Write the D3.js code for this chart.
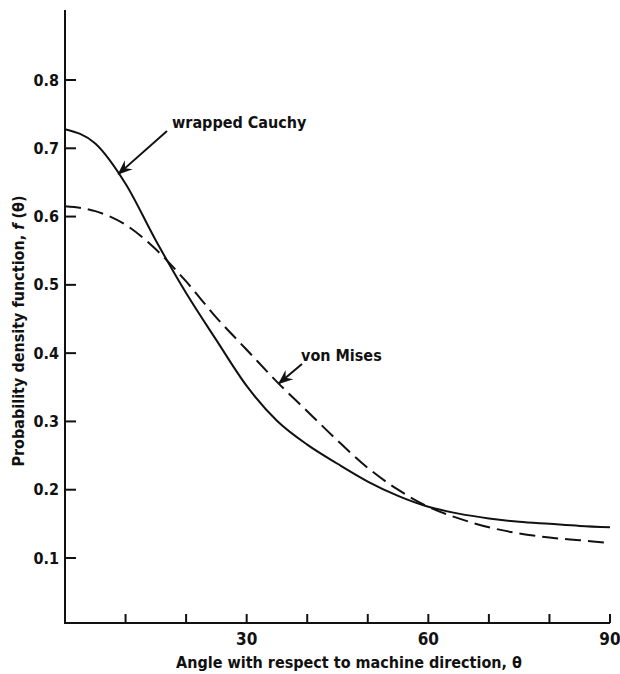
<!DOCTYPE html>
<html>
<head>
<meta charset="utf-8">
<script src="https://cdn.jsdelivr.net/npm/d3@7"></script>
<style>
  html, body { margin: 0; padding: 0; background: #fff; }
  svg { display: block; }
  text { font-family: "DejaVu Sans Condensed", "DejaVu Sans", sans-serif; font-weight: bold; fill: #111; }
</style>
</head>
<body>
<svg id="chart" width="620" height="674"></svg>
<script>
// ---- data ----
const angles = [0, 5, 10, 15, 20, 25, 30, 35, 40, 45, 50, 55, 60, 65, 70, 75, 80, 85, 90];
const wrappedCauchy = [0.728, 0.707, 0.648, 0.565, 0.488, 0.419, 0.352, 0.301, 0.266, 0.238, 0.212, 0.191, 0.175, 0.165, 0.158, 0.153, 0.150, 0.147, 0.145];
const vonMises = [0.615, 0.608, 0.588, 0.552, 0.505, 0.452, 0.405, 0.358, 0.315, 0.272, 0.232, 0.200, 0.175, 0.158, 0.145, 0.136, 0.130, 0.126, 0.122];
const xMinorTicks = [10, 20, 30, 40, 50, 60, 70, 80, 90];
const xTickLabels = [30, 60, 90];
const yTicks = [0.1, 0.2, 0.3, 0.4, 0.5, 0.6, 0.7, 0.8];
const xTitle = "Angle with respect to machine direction, θ";
const yTitleParts = ["Probability density function, ", "f", " (θ)"];
const annotations = [
  { label: "wrapped Cauchy", series: "wc", tipAngle: 8.8, tx: 172, ty: 128, sx: 167, sy: 131 },
  { label: "von Mises", series: "vm", tipAngle: 35.3, tx: 301, ty: 361, sx: 302, sy: 364 }
];

// ---- layout ----
const svg = d3.select("#chart");
const x = d3.scaleLinear().domain([0, 90]).range([65, 610]);
const y = d3.scaleLinear().domain([0.1, 0.8]).range([558, 80]);
const axisY = 623, axisTop = 10;
const fs = 16;

// defs: arrowhead
svg.append("defs").append("marker")
  .attr("id", "ah").attr("viewBox", "-15 -7 17 14")
  .attr("refX", 0).attr("refY", 0)
  .attr("markerWidth", 17).attr("markerHeight", 14)
  .attr("markerUnits", "userSpaceOnUse")
  .attr("orient", "auto")
  .append("path").attr("d", "M1,0 L-14,-6 L-9,0 L-14,6 Z").attr("fill", "#111");

// axes lines
const ax = svg.append("g").attr("stroke", "#111").attr("stroke-width", 2).attr("fill", "none");
ax.append("line").attr("x1", x(0)).attr("x2", x(0)).attr("y1", axisTop).attr("y2", axisY);
ax.append("line").attr("x1", x(0) - 1).attr("x2", x(90)).attr("y1", axisY).attr("y2", axisY);

// x ticks (inward)
ax.selectAll(".xt").data(xMinorTicks).join("line")
  .attr("x1", d => x(d)).attr("x2", d => x(d))
  .attr("y1", axisY).attr("y2", axisY - 9);

// y ticks (inward)
ax.selectAll(".yt").data(yTicks).join("line")
  .attr("x1", x(0)).attr("x2", x(0) + 11)
  .attr("y1", d => y(d)).attr("y2", d => y(d));

// tick labels
svg.selectAll(".xl").data(xTickLabels).join("text")
  .attr("x", d => x(d)).attr("y", axisY + 22)
  .attr("text-anchor", "middle").attr("font-size", fs + 1)
  .text(d => d);

svg.selectAll(".yl").data(yTicks).join("text")
  .attr("x", 59).attr("y", d => y(d)).attr("dy", "0.35em")
  .attr("text-anchor", "end").attr("font-size", fs)
  .text(d => d3.format(".1f")(d));

// axis titles
svg.append("text")
  .attr("x", 349).attr("y", 668)
  .attr("text-anchor", "middle").attr("font-size", fs)
  .text(xTitle);

const yt = svg.append("text")
  .attr("transform", "translate(24,331) rotate(-90)")
  .attr("text-anchor", "middle").attr("font-size", fs);
yt.append("tspan").text(yTitleParts[0]);
yt.append("tspan").attr("font-style", "italic").text(yTitleParts[1]);
yt.append("tspan").text(yTitleParts[2]);

// curves
const wcData = angles.map((a, i) => [a, wrappedCauchy[i]]);
const vmData = angles.map((a, i) => [a, vonMises[i]]);
const line = d3.line().x(d => x(d[0])).y(d => y(d[1])).curve(d3.curveMonotoneX);

svg.append("path").datum(wcData).attr("d", line)
  .attr("fill", "none").attr("stroke", "#111").attr("stroke-width", 2);
svg.append("path").datum(vmData).attr("d", line)
  .attr("fill", "none").attr("stroke", "#111").attr("stroke-width", 2)
  .attr("stroke-dasharray", "16,7");

// annotations
function interp(series, a) {
  const vals = series === "wc" ? wrappedCauchy : vonMises;
  return d3.scaleLinear().domain(angles).range(vals)(a);
}
annotations.forEach(an => {
  const tipX = x(an.tipAngle), tipY = y(interp(an.series, an.tipAngle));
  svg.append("line")
    .attr("x1", an.sx).attr("y1", an.sy).attr("x2", tipX).attr("y2", tipY)
    .attr("stroke", "#111").attr("stroke-width", 2)
    .attr("marker-end", "url(#ah)");
  svg.append("text").attr("x", an.tx).attr("y", an.ty)
    .attr("font-size", fs).text(an.label);
});
</script>
</body>
</html>
